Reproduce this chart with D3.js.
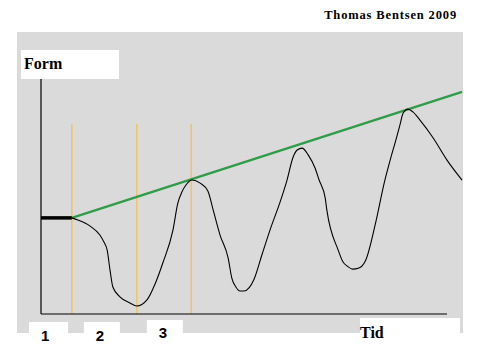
<!DOCTYPE html>
<html>
<head>
<meta charset="utf-8">
<script src="https://cdn.jsdelivr.net/npm/d3@7"></script>
<style>
  html, body { margin: 0; padding: 0; background: #fff; }
  svg { display: block; }
</style>
</head>
<body>
<svg id="chart"></svg>
<script>
// time (0-100 along the axis) and form (0-100 up the axis)
const curveTime = [7.6, 9.1, 12.1, 14.5, 15.5, 16.3, 17.0, 17.7, 19.5, 21.9, 23.6, 26.1, 28.1, 30.0, 32.5,
    33.7, 34.7, 35.7, 37.2, 39.2, 41.1, 42.4, 44.1, 46.1, 47.0, 48.0, 49.0, 50.0, 52.5, 54.4, 56.4,
    58.9, 60.6, 62.1, 63.1, 64.3, 65.8, 67.5, 68.5, 70.0, 70.4, 73.2, 74.4, 75.4, 76.8, 78.3, 80.0,
    82.3, 84.7, 86.0, 87.4, 88.4, 89.2, 90.4, 91.6, 93.3, 96.6, 100.0, 103.7];
const curveForm = [40.9, 40.0, 37.4, 33.6, 30.6, 27.2, 18.7, 11.5, 7.2, 4.7, 3.4, 6.0, 12.8, 21.7, 35.7,
    47.2, 51.9, 54.9, 57.0, 55.7, 52.3, 44.3, 33.6, 23.8, 15.3, 11.5, 9.8, 9.8, 14.9, 25.1, 35.7,
    47.7, 57.0, 66.8, 69.8, 70.6, 67.7, 62.1, 57.0, 49.4, 44.3, 27.2, 22.1, 20.4, 19.1, 19.6, 23.0,
    37.9, 57.0, 65.5, 74.0, 80.4, 85.5, 87.2, 86.0, 82.6, 74.9, 65.5, 57.0];

const baseTime = [0, 7.6];
const baseForm = [40.9, 40.9];

const trendTime = [7.6, 103.7];
const trendForm = [40.9, 94.5];

const phaseTimes = [7.6, 23.6, 37.0];
const phaseTop = 80.9;

const phaseLabels = ["1", "2", "3"];
const phaseLabelTime = [1.0, 14.5, 30.0];

const yLabel = "Form";
const xLabel = "Tid";
const credit = "Thomas Bentsen 2009";

const width = 477;
const height = 357;
const SERIF = "'Liberation Serif', 'DejaVu Serif', 'Times New Roman', serif";
const SANS = "'Liberation Sans', Arial, sans-serif";

const svg = d3.select("#chart")
    .attr("width", width)
    .attr("height", height);

const x = d3.scaleLinear().domain([0, 100]).range([41, 447]);
const y = d3.scaleLinear().domain([0, 100]).range([314, 79]);

// gray panel
svg.append("rect")
    .attr("x", 17).attr("y", 32)
    .attr("width", 446).attr("height", 301)
    .attr("fill", "#dadada");

// white label boxes
svg.append("rect")
    .attr("x", 21).attr("y", 50)
    .attr("width", 98).attr("height", 29)
    .attr("fill", "#fff");

const boxW = [39, 36, 36];
svg.selectAll("rect.phasebox")
    .data(phaseLabels)
    .enter()
    .append("rect")
    .attr("class", "phasebox")
    .attr("x", (d, i) => x(phaseLabelTime[i]) - 16)
    .attr("y", (d, i) => i === 2 ? 320 : 322)
    .attr("width", (d, i) => boxW[i])
    .attr("height", 35)
    .attr("fill", "#fff");

svg.append("rect")
    .attr("x", 360).attr("y", 318)
    .attr("width", 100).attr("height", 39)
    .attr("fill", "#fff");

// orange phase markers
svg.selectAll("line.phase")
    .data(phaseTimes)
    .enter()
    .append("line")
    .attr("class", "phase")
    .attr("x1", d => x(d)).attr("x2", d => x(d))
    .attr("y1", y(phaseTop)).attr("y2", y(0))
    .attr("stroke", "#f2c46a")
    .attr("stroke-width", 1.6);

// axes
svg.append("line")
    .attr("x1", x(0)).attr("x2", x(0))
    .attr("y1", y(100)).attr("y2", y(0))
    .attr("stroke", "#000").attr("stroke-width", 1.2);
svg.append("line")
    .attr("x1", x(0)).attr("x2", x(100))
    .attr("y1", y(0)).attr("y2", y(0))
    .attr("stroke", "#000").attr("stroke-width", 1.2);

const line = d3.line()
    .x(d => x(d[0]))
    .y(d => y(d[1]));

// trend line
svg.append("path")
    .datum(d3.zip(trendTime, trendForm))
    .attr("d", line)
    .attr("fill", "none")
    .attr("stroke", "#2f9c48")
    .attr("stroke-width", 2.4);

// baseline
svg.append("path")
    .datum(d3.zip(baseTime, baseForm))
    .attr("d", line)
    .attr("fill", "none")
    .attr("stroke", "#000")
    .attr("stroke-width", 3.5);

// form curve
svg.append("path")
    .datum(d3.zip(curveTime, curveForm))
    .attr("d", line.curve(d3.curveMonotoneX))
    .attr("fill", "none")
    .attr("stroke", "#000")
    .attr("stroke-width", 1.1);

// texts
svg.append("text")
    .attr("x", 457).attr("y", 19)
    .attr("text-anchor", "end")
    .attr("font-family", SERIF)
    .attr("font-weight", "bold")
    .attr("font-size", "12.5px")
    .attr("letter-spacing", "0.85px")
    .text(credit);

svg.append("text")
    .attr("x", 24).attr("y", 69)
    .attr("font-family", SERIF)
    .attr("font-weight", "bold")
    .attr("font-size", "16px")
    .text(yLabel);

svg.selectAll("text.phase")
    .data(phaseLabels)
    .enter()
    .append("text")
    .attr("class", "phase")
    .attr("x", (d, i) => x(phaseLabelTime[i]))
    .attr("y", (d, i) => i === 2 ? 338 : 341)
    .attr("text-anchor", "middle")
    .attr("font-family", SANS)
    .attr("font-weight", "bold")
    .attr("font-size", "15px")
    .text(d => d);

svg.append("text")
    .attr("x", 360).attr("y", 338)
    .attr("font-family", SERIF)
    .attr("font-weight", "bold")
    .attr("font-size", "16px")
    .text(xLabel);
</script>
</body>
</html>
